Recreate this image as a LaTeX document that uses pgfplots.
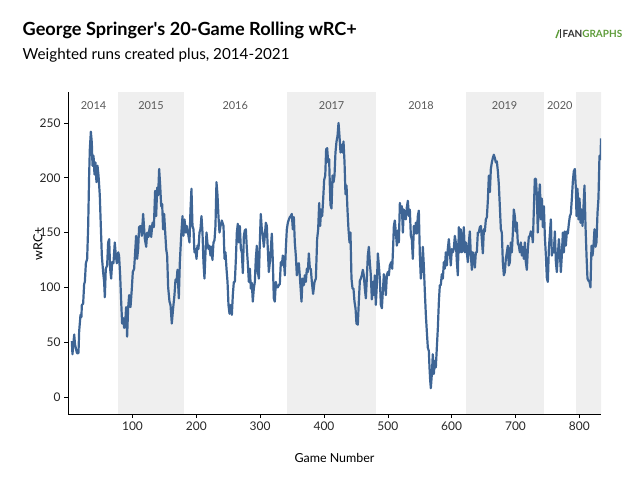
\documentclass[border=0pt]{standalone}
\usepackage{fontspec}
\setmainfont{Lato}
\usepackage{pgfplots}
\pgfplotsset{compat=1.18}
\definecolor{linec}{HTML}{3E6595}
\definecolor{band}{HTML}{EFEFEF}
\definecolor{fgreen}{HTML}{5E9C3A}
\definecolor{fdark}{HTML}{333333}
\begin{document}
\begin{tikzpicture}[x=1bp,y=1bp]
\path[use as bounding box] (0,0) rectangle (640,478);
\node[anchor=base west, font=\fontsize{18.2}{20}\selectfont\bfseries, inner sep=0] at (22.5,442) {George Springer\textquotesingle s 20-Game Rolling wRC+};
\node[anchor=base west, font=\fontsize{15.3}{17}\selectfont, inner sep=0] at (22.5,418.5) {Weighted runs created plus, 2014-2021};
% logo
\draw[fgreen, line width=1.4bp] (556,440) -- (559,448);
\draw[fdark, line width=1.2bp] (560.5,440) -- (560.5,449);
\node[anchor=base west, inner sep=0, font=\fontsize{10}{12}\selectfont\bfseries] at (562.5,440) {\textcolor{fdark}{FAN}\textcolor{fgreen}{GRAPHS}};
\begin{axis}[
  at={(68bp,64bp)}, anchor=south west, scale only axis,
  width=533bp, height=322.3bp,
  xmin=-1, xmax=834, ymin=-15.5, ymax=278.5,
  axis x line=bottom, axis y line=left,
  axis line style={-, black, line width=0.8bp},
  xtick={100,200,...,800}, ytick={0,50,...,250},
  tick align=outside, major tick length=4bp,
  tick style={black, line width=0.6bp},
  /pgf/number format/assume math mode=true,
  tick label style={font=\fontsize{12}{14}\selectfont, text=black!85},
  xlabel={Game Number}, ylabel={wRC+},
  label style={font=\fontsize{12.5}{14}\selectfont},
  xlabel style={at={(axis description cs:0.5,0)}, anchor=center, yshift=-44bp},
  ylabel style={at={(axis description cs:0,0.528)}, anchor=center, yshift=30bp},
  clip=true,
]
\addplot[draw=none, fill=band, forget plot] coordinates {(78,-15.5) (180,-15.5) (180,278.5) (78,278.5)} -- cycle;
\addplot[draw=none, fill=band, forget plot] coordinates {(342,-15.5) (482,-15.5) (482,278.5) (342,278.5)} -- cycle;
\addplot[draw=none, fill=band, forget plot] coordinates {(622,-15.5) (744,-15.5) (744,278.5) (622,278.5)} -- cycle;
\addplot[draw=none, fill=band, forget plot] coordinates {(795,-15.5) (840,-15.5) (840,278.5) (795,278.5)} -- cycle;
\addplot[linec, line width=2.2bp, line join=round] coordinates {
(5,51) (6,39) (8.7,57) (10,48) (13,40) (15.4,40) (16.5,60) (18.6,75) (20,73) (20.7,84) (22.7,85) (24.3,103) (25.4,105) (27,122) (29,126) (30.6,156) (32.1,202) (33.2,226) (34.8,242) (36.3,232) (37.4,211) (39,220) (40.5,203) (42,214) (43.6,196) (45.2,211) (46.8,202) (48.8,184) (50.4,156) (52,129) (54,114) (55.6,105) (56.7,91) (58.2,117) (60.3,120) (61.9,141) (63.5,144) (65,117) (66.6,108) (68.2,123) (70.2,122) (72.3,141) (73.9,129) (75.5,122) (77.6,132) (79,129) (80.7,111) (82.3,87) (83.8,67) (85.4,72) (87,63) (88.5,67) (90.1,82) (91.6,55) (93.2,81) (94.8,93) (96.9,82) (99,99) (100.5,114) (102.6,117) (104.2,132) (105.7,147) (107.3,126) (108.9,135) (110.4,155) (112.5,156) (114.6,147) (116.7,167)
(119.4,144) (121.5,137) (123,150) (125,146) (127.2,156) (129.3,146) (131.4,159) (133.5,155) (135.5,188) (137.1,165) (138.7,191) (140.2,184) (141.8,208) (143.4,193) (145,174) (146.5,176) (148,153) (149.6,167) (151.2,151) (152.8,135) (154.3,129) (155.9,100) (158,87) (159.6,84) (161.6,67) (163.7,81) (165.8,93) (167.4,107) (169,105) (170.5,116) (172.6,90) (174.2,123) (176.3,147) (178.4,165) (179.9,147) (181.5,162) (183.6,150) (185.1,156) (187.2,149) (189.3,141) (190.9,171) (192.4,190) (194,156) (195.6,153) (197.1,132) (198.7,135) (200.3,126) (201.8,138) (203.4,135) (205,150) (206.5,153) (208.1,165) (209.7,150) (211.2,123) (212.8,108) (214.4,132) (216,150) (217.5,140) (219.1,135) (220.6,138) (222.2,129) (223.8,137) (225.3,125) (226.9,141) (228.5,143) (230,156) (231.6,196) (233.2,184) (234.7,165) (236.3,150) (237.9,156)
(240,161) (242.6,156) (244.2,126) (245.7,132) (247.3,117) (248.9,105) (250.4,84) (252,76) (254,84) (255.7,75) (257.2,93) (258.8,105) (260.4,105) (262,126) (263.5,150) (265,158) (266.6,141) (268.2,156) (269.8,135) (271.3,132) (272.9,113) (274.5,147) (276,152) (277.6,153) (279.2,135) (280.7,122) (282.3,105) (283.9,117) (285.4,99) (287,104) (288.5,87) (290.1,99) (291.7,105) (293.2,126) (294.8,138) (296.4,114) (298,108) (299.5,141) (301,167) (302.6,153) (304.2,147) (305.8,137) (307.3,147) (308.9,159) (310.5,156) (312,135) (313.6,114) (315.2,123) (316.7,135) (318.3,149) (319.9,123) (321.4,90) (323,87) (324.6,105) (326.1,100) (327.7,100) (329.3,102) (330.8,103) (332.4,123) (334,120) (335.5,129) (337,126) (338.7,111) (340.2,135) (341.8,153) (343.4,159) (345,162) (346.5,164) (348,165) (349.6,167) (351.2,153) (352.8,164) (354.3,141) (355.9,129) (357.5,111) (359,120) (360.6,122)
(362.2,110) (364.8,87) (366.4,108) (368.5,102) (370,111) (371.6,105) (373.2,117) (374.7,114) (376.3,131) (377.9,117) (379.4,117) (381,105) (383,94) (385.2,105) (387.3,108) (389.3,144) (390.9,153) (392.5,177) (394,156) (395.6,171) (397.2,165) (398.7,180) (400.3,198) (402,202) (403.4,226) (405,227) (406.6,214) (408.1,217) (409.2,193) (410.2,175) (411.8,172) (413.4,202) (415,196) (416.5,202) (418,223) (419.6,233) (421.2,238) (422.8,250) (424.3,238) (425.9,223) (427.5,230) (429,223) (430.6,233) (432.2,214) (433.7,185) (435.3,193) (436.8,171) (438.4,153) (440,141) (441.5,150) (443.1,108) (444.7,99) (446.2,99) (447.8,87) (449.4,81) (450.9,67) (453,66) (454.6,87) (456.2,106) (457.7,108) (459.3,111) (460.9,116) (462.4,111) (464,99) (465.6,90) (467.1,108) (468.7,129) (470.3,137) (471.8,123) (473.4,111) (475,89) (476.5,105) (478,93) (479.7,111) (481.2,84) (482.8,102)
(484.4,131) (486,120) (487.5,108) (489.1,84) (490.7,81) (492.2,96) (493.8,112) (495.4,105) (496.9,93) (498.5,111) (500,114) (501.6,111) (503.2,120) (505.3,123) (506.9,117) (508.4,138) (509.5,156) (511,161) (512.6,150) (514.2,138) (515.7,152) (517.3,141) (518.9,177) (520.4,168) (522,174) (523.6,150) (525.1,171) (526.7,165) (528.2,162) (529.8,173) (531.4,179) (533,165) (534.5,171) (536.1,147) (537.6,144) (539.2,126) (540.8,156) (542.3,149) (543.9,159) (545.5,149) (547,165) (548.6,170) (550.2,129) (551.7,108) (553.3,117) (554.9,137) (556.4,120) (558,96) (559.6,75) (561.1,60) (562.7,45) (564.3,42) (565.3,27) (566.4,15) (567.4,8) (569,21) (570.5,39) (572.1,21) (573.7,33) (575.2,27) (576.8,45) (578.4,63) (580,87) (581.5,102) (583,102) (584.6,112) (586.2,108) (587.8,123) (589.3,117) (590.9,132) (592.5,120) (594,135) (595.6,144) (597.2,132) (598.7,120) (600.3,135) (601.9,132) (603.4,135) (605,147)
(606.6,141) (608.2,123) (609.7,111) (611.3,155) (612.9,132) (614.4,153) (616,132) (617.6,135) (619.1,155) (620.7,132) (622.3,141) (623.8,132) (625.4,123) (627,141) (628.5,151) (630.1,129) (631.7,116) (633.2,132) (634.8,126) (636.4,118) (637.9,132) (639.5,132) (641,150) (642.6,150) (644.2,155) (645.8,156) (647.3,144) (648.9,131) (650.5,153) (652,151) (653.6,162) (655.2,164) (656.7,179) (658.3,202) (659.9,187) (661.4,208) (663,214) (664.5,218) (666.1,221) (667.7,218) (669.2,214) (670.8,215) (672.4,206) (673.9,194) (675.5,174) (677.1,153) (678.6,150) (680.2,123) (681.8,111) (683.3,114) (684.9,126) (686.5,132) (688,138) (689.6,120) (691.2,123) (692.7,141) (694.3,132) (695.9,150) (697.4,171) (699,165) (700.6,151) (702.1,159) (703.7,140) (705.3,138) (706.8,132) (708.4,141) (710,129) (711.5,137) (713.1,126) (714.7,141) (716.2,123) (717.8,116) (719.4,135) (720.9,146) (722.5,147) (724,151) (725.6,150) (727.2,141)
(728.8,171) (730.3,199) (732,199) (733.5,184) (735,150) (736.6,181) (738.2,194) (739.8,162) (741.3,181) (742.9,155) (744.5,174) (746,147) (747.6,129) (749.2,108) (750.7,105) (752.3,135) (753.9,149) (755.4,162) (757,129) (758.6,135) (760.1,132) (761.7,151) (763.3,123) (764.8,114) (766.4,129) (768,144) (769.5,132) (771.1,114) (772.6,129) (774.2,150) (775.8,132) (777.3,151) (778.9,138) (780.5,151) (782,149) (783.6,158) (785.2,165) (786.7,167) (788.3,181) (789.9,197) (791.4,206) (793,208) (794.6,190) (795.6,165) (797.2,190) (798.7,162) (800.3,181) (801.9,159) (803.4,171) (805,156) (806.6,174) (808.1,193) (809.7,156) (811.3,129) (812.8,108) (814.4,106) (816,105) (817.5,100) (819.1,138) (820.7,129) (822.2,138) (823.8,153) (825.4,137) (826.9,141) (828.5,168) (830,181) (831.6,220) (833.2,217) (834,236)
};
\node[font=\fontsize{11}{13}\selectfont, text=black!65] at (axis cs:39,265.5) {2014};
\node[font=\fontsize{11}{13}\selectfont, text=black!65] at (axis cs:129,265.5) {2015};
\node[font=\fontsize{11}{13}\selectfont, text=black!65] at (axis cs:261,265.5) {2016};
\node[font=\fontsize{11}{13}\selectfont, text=black!65] at (axis cs:412,265.5) {2017};
\node[font=\fontsize{11}{13}\selectfont, text=black!65] at (axis cs:552,265.5) {2018};
\node[font=\fontsize{11}{13}\selectfont, text=black!65] at (axis cs:683,265.5) {2019};
\node[font=\fontsize{11}{13}\selectfont, text=black!65] at (axis cs:769.5,265.5) {2020};
\end{axis}
\end{tikzpicture}
\end{document}
